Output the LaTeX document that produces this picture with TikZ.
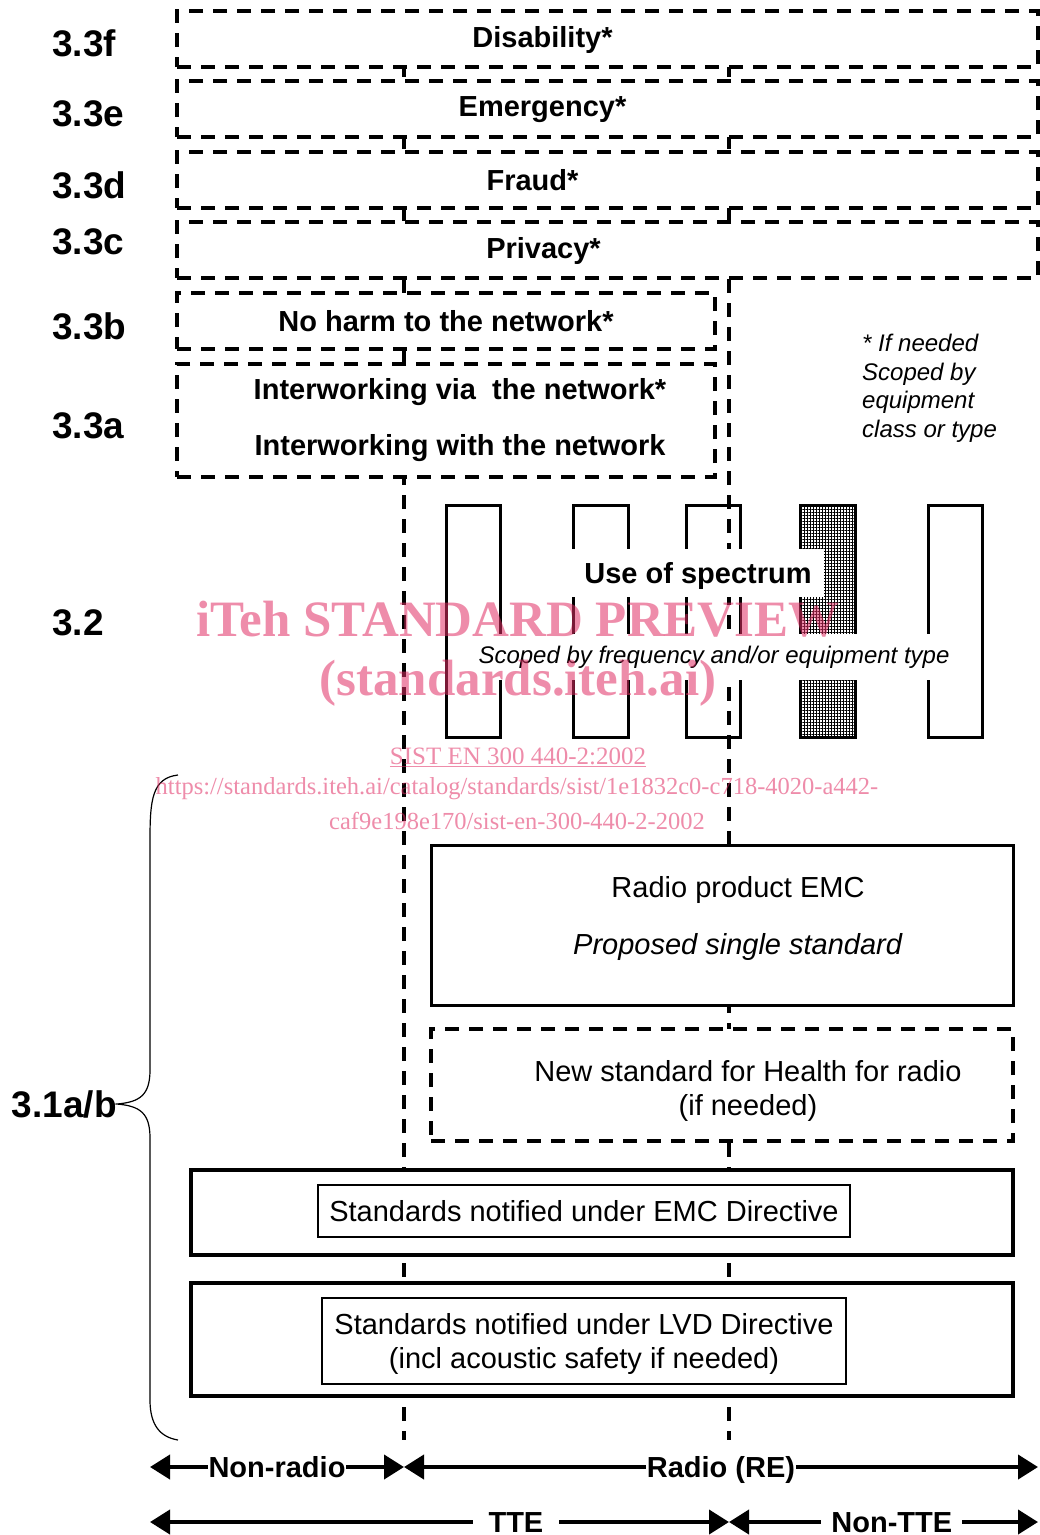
\documentclass[tikz,border=0pt]{standalone}
\usepackage{fontspec}
\setmainfont{Liberation Sans}
\newfontfamily\wmfont{Liberation Serif}
\usetikzlibrary{arrows.meta,patterns.meta}
\definecolor{wmpink}{RGB}{224,46,100}

\begin{document}
\begin{tikzpicture}[x=1pt, y=-1pt, >={Triangle[length=20pt,width=24pt]},
  dbox/.style={draw, fill=white, line width=3.5pt, dash pattern=on 14pt off 10pt},
  sbox/.style={draw, fill=white, line width=3pt},
  obox/.style={draw, fill=white, line width=4pt},
  tbox/.style={draw, fill=white, line width=1.2pt},
  divide/.style={line width=3.5pt, dash pattern=on 14pt off 10pt},
  band/.style={draw, line width=3pt},
  head/.style={font=\fontsize{29}{34}\selectfont\bfseries},
  body/.style={font=\fontsize{29}{34}\selectfont},
  sect/.style={font=\fontsize{37}{40}\selectfont\bfseries, anchor=west, inner sep=0pt},
  span/.style={<->, line width=4pt},
  tag/.style={head, fill=white, inner xsep=1pt, inner ysep=2pt, text height=21pt, text depth=0pt},
  wm/.style={text=wmpink, text opacity=0.55}]
  \useasboundingbox (0,0) rectangle (1040,1535);

  % the two dashed dividers
  \draw[divide] (404,39) -- (404,1440);
  \draw[divide] (729,39) -- (729,1440);

  % 3.3 rows
  \node[dbox, minimum width=861pt, minimum height=56pt] (disab) at (607.5,39) {};
  \node[head] at ([xshift=-65pt, yshift=-1pt]disab.center) {Disability*};
  \node[dbox, minimum width=861pt, minimum height=56pt] (emerg) at (607.5,109) {};
  \node[head] at ([xshift=-65pt, yshift=-1pt]emerg.center) {Emergency*};
  \node[dbox, minimum width=861pt, minimum height=56pt] (fraud) at (607.5,180) {};
  \node[head] at ([xshift=-75pt]fraud.center) {Fraud*};
  \node[dbox, minimum width=861pt, minimum height=56pt] (priv) at (607.5,250) {};
  \node[head] at ([xshift=-64pt, yshift=-1pt]priv.center) {Privacy*};
  \node[dbox, head, minimum width=538pt, minimum height=56pt] (noharm) at (446,321) {No harm to the network*};
  \node[dbox, minimum width=538pt, minimum height=113pt] (inter) at (446,420.5) {};
  \node[align=center, font=\fontsize{29}{56}\selectfont\bfseries] at ([xshift=14pt]inter.center)
    {Interworking via~ the network*\\Interworking with the network};

  \node[sect] (s3f) at (52,43) {3.3f};
  \node[sect] (s3e) at (52,114) {3.3e};
  \node[sect] (s3d) at (52,185) {3.3d};
  \node[sect] (s3c) at (52,242) {3.3c};
  \node[sect] (s3b) at (52,326) {3.3b};
  \node[sect] (s3a) at (52,426) {3.3a};
  \node[sect] (s2) at (52,623) {3.2};

  \node[font=\fontsize{24}{28.5}\selectfont\itshape, align=left, anchor=west, inner sep=0pt] (note) at (862,388.5)
    {* If needed\\Scoped by\\equipment\\class or type};

  % 3.2 spectrum bands
  \draw[band] (446,505) rectangle (500,737);
  \draw[band] (573,505) rectangle (628,737);
  \draw[band] (686,505) rectangle (740,737);
  \fill[pattern={Lines[distance=3pt,line width=0.5pt]}] (800,505) rectangle (855,737);
  \fill[pattern={Lines[angle=90,distance=3pt,line width=0.5pt]}] (800,505) rectangle (855,737);
  \draw[band] (800,505) rectangle (855,737);
  \draw[band] (928,505) rectangle (982,737);
  \node[head, fill=white, inner xsep=12pt, inner ysep=13.5pt, text height=21pt, text depth=0pt] (spectrum) at (698,573) {Use of spectrum};
  \node[fill=white, inner xsep=4pt, inner ysep=12pt, font=\fontsize{24}{28}\selectfont\itshape] (scoped) at (714,657)
    {Scoped by frequency and/or equipment type};

  % 3.1 boxes
  \node[sbox, minimum width=582pt, minimum height=160pt] (radio) at (722,925) {};
  \node[align=center, font=\fontsize{29}{57}\selectfont] at ([xshift=16pt, yshift=6.5pt]radio.center)
    {Radio product EMC\\\textit{Proposed single standard}};
  \node[dbox, minimum width=582pt, minimum height=112pt] (health) at (722,1085) {};
  \node[body, align=center] at ([xshift=26pt, yshift=-6pt]health.center) {New standard for Health for radio\\(if needed)};
  \node[obox, minimum width=822pt, minimum height=85pt] (emc) at (602,1212.5) {};
  \node[tbox, body, minimum width=532pt, minimum height=52pt] (emcstd) at (584,1211) {Standards notified under EMC Directive};
  \node[obox, minimum width=822pt, minimum height=113pt] (lvd) at (602,1339.5) {};
  \node[tbox, body, align=center, minimum width=524pt, minimum height=86pt, text depth=0pt] (lvdstd) at (584,1341)
    {Standards notified under LVD Directive\\(incl acoustic safety if needed)};

  \node[sect, anchor=east] (s1) at (117,1104) {3.1a/b};
  \draw[line width=1.2pt] (178,775) .. controls (152,778) and (150,800) .. (150,840) -- (150,1070)
    .. controls (150,1095) and (140,1102) .. (s1.east) .. controls (140,1106) and (150,1113) .. (150,1138)
    -- (150,1400) .. controls (150,1425) and (160,1437) .. (178,1440);

  % scope arrows
  \coordinate (nrL) at (150,1467);
  \coordinate (nrR) at (404,1467);
  \coordinate (reR) at (1038,1467);
  \coordinate (tteL) at (150,1522);
  \coordinate (tteR) at (729,1522);
  \coordinate (ntR) at (1038,1522);
  \draw[span] (nrL) -- node[tag] {Non-radio} (nrR);
  \draw[span] (nrR) -- node[tag] {Radio (RE)} (reR);
  \draw[span] (tteL) -- node[tag, pos=0.632, inner xsep=16pt] {TTE} (tteR);
  \draw[span] (tteR) -- node[tag, pos=0.527, inner xsep=10pt] {Non-TTE} (ntR);

  % watermark
  \node[wm, font=\wmfont\fontsize{51}{55}\selectfont\bfseries] (wmtitle) at (518,619) {iTeh STANDARD PREVIEW};
  \node[wm, font=\wmfont\fontsize{51}{55}\selectfont\bfseries] (wmsite) at (518,683) {(standards.iteh.ai)};
  \node[wm, font=\wmfont\fontsize{25}{28}\selectfont] (wmdoc) at (518,757) {\underline{SIST EN 300 440-2:2002}};
  \node[wm, font=\wmfont\fontsize{24.5}{28}\selectfont] (wmurl) at (517,789)
    {https://standards.iteh.ai/catalog/standards/sist/1e1832c0-c718-4020-a442-};
  \node[wm, font=\wmfont\fontsize{24.5}{28}\selectfont] (wmurl2) at (517,821) {caf9e198e170/sist-en-300-440-2-2002};
\end{tikzpicture}
\end{document}
